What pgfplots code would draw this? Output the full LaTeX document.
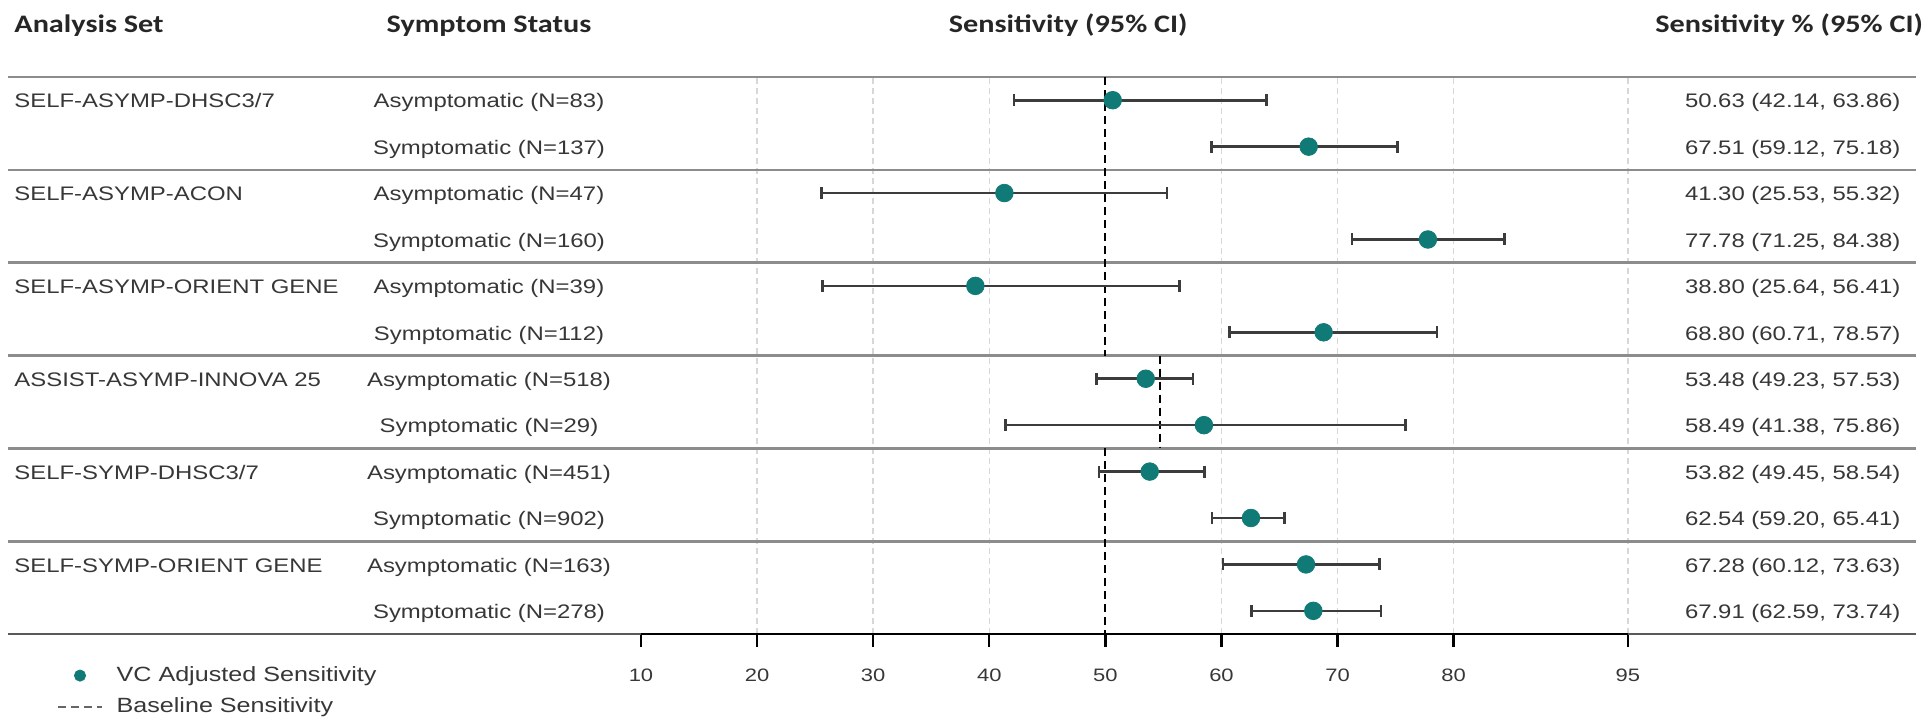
\documentclass[border=0pt]{standalone}
\usepackage{fontspec}
\setmainfont{Liberation Sans}[FakeStretch=1.22]
\newfontfamily\hdrfont{Carlito}[FakeStretch=1.2]
\usepackage{pgfplots}
\pgfplotsset{compat=1.18}
\usepackage{pgfplotstable}
\definecolor{teal1}{RGB}{16,122,118}
\definecolor{txt}{RGB}{55,55,55}
\definecolor{sepc}{RGB}{140,140,140}
\definecolor{gridc}{RGB}{215,215,215}
\definecolor{errc}{RGB}{60,60,60}

\pgfplotsset{
  legmark/.style={legend image code/.code={\draw[##1] plot coordinates {(0.38cm,0cm)};}},
  legline/.style={legend image code/.code={\draw[##1] (0cm,0cm) -- (0.76cm,0cm);}},
}

\pgfplotstableread{
y x lo hi
12 50.63 42.14 63.86
11 67.51 59.12 75.18
10 41.30 25.53 55.32
9 77.78 71.25 84.38
8 38.80 25.64 56.41
7 68.80 60.71 78.57
6 53.48 49.23 57.53
5 58.49 41.38 75.86
4 53.82 49.45 58.54
3 62.54 59.20 65.41
2 67.28 60.12 73.63
1 67.91 62.59 73.74
}\sens

\begin{document}
\begin{tikzpicture}[
  lbl/.style={font=\fontsize{9.8pt}{11pt}\selectfont, text=txt, inner sep=0pt, yshift=-1.2pt},
  hdr/.style={font=\hdrfont\bfseries\fontsize{12.6pt}{14pt}\selectfont, text=black!85, inner sep=0pt},
  gridl/.style={gridc, line width=0.7pt, dash pattern=on 3pt off 2pt},
  sepl/.style={sepc, line width=1.3pt}
]
\begin{axis}[
  x=5.805pt, y=23.21pt,
  xmin=10, xmax=95, ymin=0.5, ymax=12.5,
  clip=false,
  axis line style={draw=none},
  xtick={10,20,30,40,50,60,70,80,95},
  xtick pos=bottom,
  ytick=\empty,
  tick align=outside,
  major tick length=6.5pt,
  xtick style={draw=black, line width=1.2pt},
  /pgf/number format/assume math mode=true,
  xticklabel style={font=\fontsize{9pt}{11pt}\selectfont, text=txt, yshift=-7.5pt},
  legend style={at={(axis cs:-40.3,-0.15)}, anchor=north west, draw=none, fill=none,
    font=\fontsize{10.3pt}{12pt}\selectfont, text=txt, inner sep=0pt, row sep=4.5pt,
    nodes={inner sep=1pt},
    /tikz/every odd column/.append style={column sep=6pt}},
  legend cell align=left,
]
% background grid
\pgfplotsinvokeforeach{20,30,40,60,70,80,95}{
  \draw[gridl] (axis cs:#1,0.5) -- (axis cs:#1,12.5);
}
% separators
\pgfplotsinvokeforeach{12.5,10.5,8.5,6.5,4.5,2.5}{
  \draw[sepl] (axis cs:-44.52,#1) -- (axis cs:119.82,#1);
}
\draw[black!65, line width=1.3pt] (axis cs:-44.52,0.5) -- (axis cs:119.82,0.5);
\draw[black, line width=1.3pt] (axis cs:10,0.5) -- (axis cs:95,0.5);

% baseline sensitivity
\addplot[black, line width=1pt, dash pattern=on 4pt off 2.5pt, forget plot] coordinates {(50,12.5) (50,6.5)};
\addplot[black, line width=1pt, dash pattern=on 4pt off 2.5pt, forget plot] coordinates {(54.74,6.5) (54.74,4.5)};
\addplot[black, line width=1pt, dash pattern=on 4pt off 2.5pt, forget plot] coordinates {(50,4.5) (50,0.5)};

% estimates with CI
\addplot[only marks, mark=*, mark size=4.4pt, mark options={fill=teal1, draw=teal1}, forget plot,
  error bars/.cd, x dir=both, x explicit, error mark=|,
  error bar style={errc, line width=1.3pt},
  error mark options={errc, mark size=3pt, line width=1.3pt}]
  table[x=x, y=y, x error minus expr=\thisrow{x}-\thisrow{lo}, x error plus expr=\thisrow{hi}-\thisrow{x}] {\sens};

% legend
\addlegendimage{only marks, mark=*, mark size=2.8pt, mark options={fill=teal1, draw=teal1}, legmark}
\addlegendentry{VC Adjusted Sensitivity}
\addlegendimage{black!60, line width=1pt, dash pattern=on 4pt off 2.5pt, legline}
\addlegendentry{Baseline Sensitivity}

% headers
\node[hdr, anchor=mid west] at (axis cs:-44.0,13.58) {Analysis Set};
\node[hdr, anchor=mid] at (axis cs:-3.09,13.58) {Symptom Status};
\node[hdr, anchor=mid] at (axis cs:46.8,13.58) {Sensitivity (95\% CI)};
\node[hdr, anchor=mid] at (axis cs:108.9,13.58) {Sensitivity \% (95\% CI)};

% analysis set labels
\node[lbl, anchor=mid west] at (axis cs:-44.0,12) {SELF-ASYMP-DHSC3/7};
\node[lbl, anchor=mid west] at (axis cs:-44.0,10) {SELF-ASYMP-ACON};
\node[lbl, anchor=mid west] at (axis cs:-44.0,8) {SELF-ASYMP-ORIENT GENE};
\node[lbl, anchor=mid west] at (axis cs:-44.0,6) {ASSIST-ASYMP-INNOVA 25};
\node[lbl, anchor=mid west] at (axis cs:-44.0,4) {SELF-SYMP-DHSC3/7};
\node[lbl, anchor=mid west] at (axis cs:-44.0,2) {SELF-SYMP-ORIENT GENE};

% symptom status
\node[lbl, anchor=mid] at (axis cs:-3.09,12) {Asymptomatic (N=83)};
\node[lbl, anchor=mid] at (axis cs:-3.09,11) {Symptomatic (N=137)};
\node[lbl, anchor=mid] at (axis cs:-3.09,10) {Asymptomatic (N=47)};
\node[lbl, anchor=mid] at (axis cs:-3.09,9) {Symptomatic (N=160)};
\node[lbl, anchor=mid] at (axis cs:-3.09,8) {Asymptomatic (N=39)};
\node[lbl, anchor=mid] at (axis cs:-3.09,7) {Symptomatic (N=112)};
\node[lbl, anchor=mid] at (axis cs:-3.09,6) {Asymptomatic (N=518)};
\node[lbl, anchor=mid] at (axis cs:-3.09,5) {Symptomatic (N=29)};
\node[lbl, anchor=mid] at (axis cs:-3.09,4) {Asymptomatic (N=451)};
\node[lbl, anchor=mid] at (axis cs:-3.09,3) {Symptomatic (N=902)};
\node[lbl, anchor=mid] at (axis cs:-3.09,2) {Asymptomatic (N=163)};
\node[lbl, anchor=mid] at (axis cs:-3.09,1) {Symptomatic (N=278)};

% values
\node[lbl, anchor=mid] at (axis cs:109.2,12) {50.63 (42.14, 63.86)};
\node[lbl, anchor=mid] at (axis cs:109.2,11) {67.51 (59.12, 75.18)};
\node[lbl, anchor=mid] at (axis cs:109.2,10) {41.30 (25.53, 55.32)};
\node[lbl, anchor=mid] at (axis cs:109.2,9) {77.78 (71.25, 84.38)};
\node[lbl, anchor=mid] at (axis cs:109.2,8) {38.80 (25.64, 56.41)};
\node[lbl, anchor=mid] at (axis cs:109.2,7) {68.80 (60.71, 78.57)};
\node[lbl, anchor=mid] at (axis cs:109.2,6) {53.48 (49.23, 57.53)};
\node[lbl, anchor=mid] at (axis cs:109.2,5) {58.49 (41.38, 75.86)};
\node[lbl, anchor=mid] at (axis cs:109.2,4) {53.82 (49.45, 58.54)};
\node[lbl, anchor=mid] at (axis cs:109.2,3) {62.54 (59.20, 65.41)};
\node[lbl, anchor=mid] at (axis cs:109.2,2) {67.28 (60.12, 73.63)};
\node[lbl, anchor=mid] at (axis cs:109.2,1) {67.91 (62.59, 73.74)};

\coordinate (BL) at (axis cs:-45.21,-1.352);
\coordinate (TR) at (axis cs:120.51,14.159);
\end{axis}
\pgfresetboundingbox
\useasboundingbox (BL) rectangle (TR);
\end{tikzpicture}
\end{document}
